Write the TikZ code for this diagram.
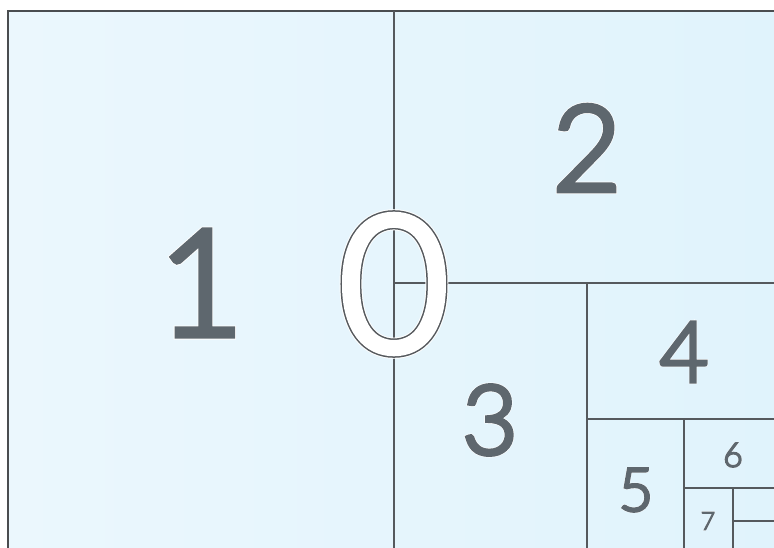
\documentclass[tikz,border=0pt]{standalone}
\usepackage{fontspec}
\setmainfont{Carlito}
\newfontfamily\digfont{Lato Light}[FakeBold=4.6]
\newfontfamily\glowfont{Lato Light}[FakeBold=5.8]
\newfontfamily\zeroglow{Lato Light}[FakeBold=7.2]
\newfontfamily\zerodark{Lato Light}[FakeBold=6.2]
\newfontfamily\zerowhite{Lato Light}[FakeBold=4.6]
\definecolor{framec}{HTML}{4A4D50}
\definecolor{linec}{HTML}{55595D}
\definecolor{digitc}{HTML}{5E676E}
\definecolor{bgA}{HTML}{EBF7FD}
\definecolor{bgB}{HTML}{E0F3FC}
\newcommand{\dig}[2]{{\digfont\fontsize{#1}{#1}\selectfont\textcolor{digitc}{#2}}}
\newcommand{\glow}[2]{{\glowfont\fontsize{#1}{#1}\selectfont\textcolor{white}{#2}}}
\begin{document}
\begin{tikzpicture}[x=1pt,y=-1pt,
  divider/.style={draw=linec,line width=1.2pt},
  lbl/.style={inner sep=0pt,anchor=center}]
\useasboundingbox (0,0) rectangle (774,548);
\clip (0,0) rectangle (774,548);
\fill[white] (0,0) rectangle (774,548);
\shade[left color=bgA,right color=bgB] (8,11) rectangle (780,557);
\draw[draw=framec,line width=2pt] (8,11) rectangle (780,557);
% dividers
\coordinate (v1t) at (394,11);   \coordinate (v1b) at (394,557);
\coordinate (h1l) at (394,283);  \coordinate (h1r) at (780,283);
\coordinate (v2t) at (587,283);  \coordinate (v2b) at (587,557);
\coordinate (h2l) at (587,419);  \coordinate (h2r) at (780,419);
\coordinate (v3t) at (684,419);  \coordinate (v3b) at (684,557);
\coordinate (h3l) at (684,488);  \coordinate (h3r) at (780,488);
\coordinate (v4t) at (733,488);  \coordinate (v4b) at (733,557);
\coordinate (h4l) at (733,521);  \coordinate (h4r) at (780,521);
\draw[divider] (v1t) -- (v1b);
\draw[divider] (h1l) -- (h1r);
\draw[divider] (v2t) -- (v2b);
\draw[divider] (h2l) -- (h2r);
\draw[divider] (v3t) -- (v3b);
\draw[divider] (h3l) -- (h3r);
\draw[divider] (v4t) -- (v4b);
\draw[divider] (h4l) -- (h4r);
% labels: white halo behind each grey digit
\node[lbl] (g1) at (201,283) {\glow{147}{1}};
\node[lbl] (n1) at (201,283) {\dig{147}{1}};
\node[lbl] (g2) at (587,148) {\glow{119}{2}};
\node[lbl] (n2) at (587,148) {\dig{119}{2}};
\node[lbl] (g3) at (490,420) {\glow{96}{3}};
\node[lbl] (n3) at (490,420) {\dig{96}{3}};
\node[lbl] (g4) at (684,352) {\glow{84}{4}};
\node[lbl] (n4) at (684,352) {\dig{84}{4}};
\node[lbl] (g5) at (636,490) {\glow{60}{5}};
\node[lbl] (n5) at (636,490) {\dig{60}{5}};
\node[lbl] (g6) at (733,455) {\glow{34}{6}};
\node[lbl] (n6) at (733,455) {\dig{34}{6}};
\node[lbl] (g7) at (708,521) {\glow{25}{7}};
\node[lbl] (n7) at (708,521) {\dig{25}{7}};
% outlined zero
\node[lbl] (g0) at (394,284) {\zeroglow\fontsize{188}{188}\selectfont\textcolor{white}{0}};
\node[lbl] (o0) at (394,284) {\zerodark\fontsize{188}{188}\selectfont\textcolor{linec}{0}};
\node[lbl] (n0) at (394,284) {\zerowhite\fontsize{188}{188}\selectfont\textcolor{white}{0}};
\end{tikzpicture}
\end{document}
